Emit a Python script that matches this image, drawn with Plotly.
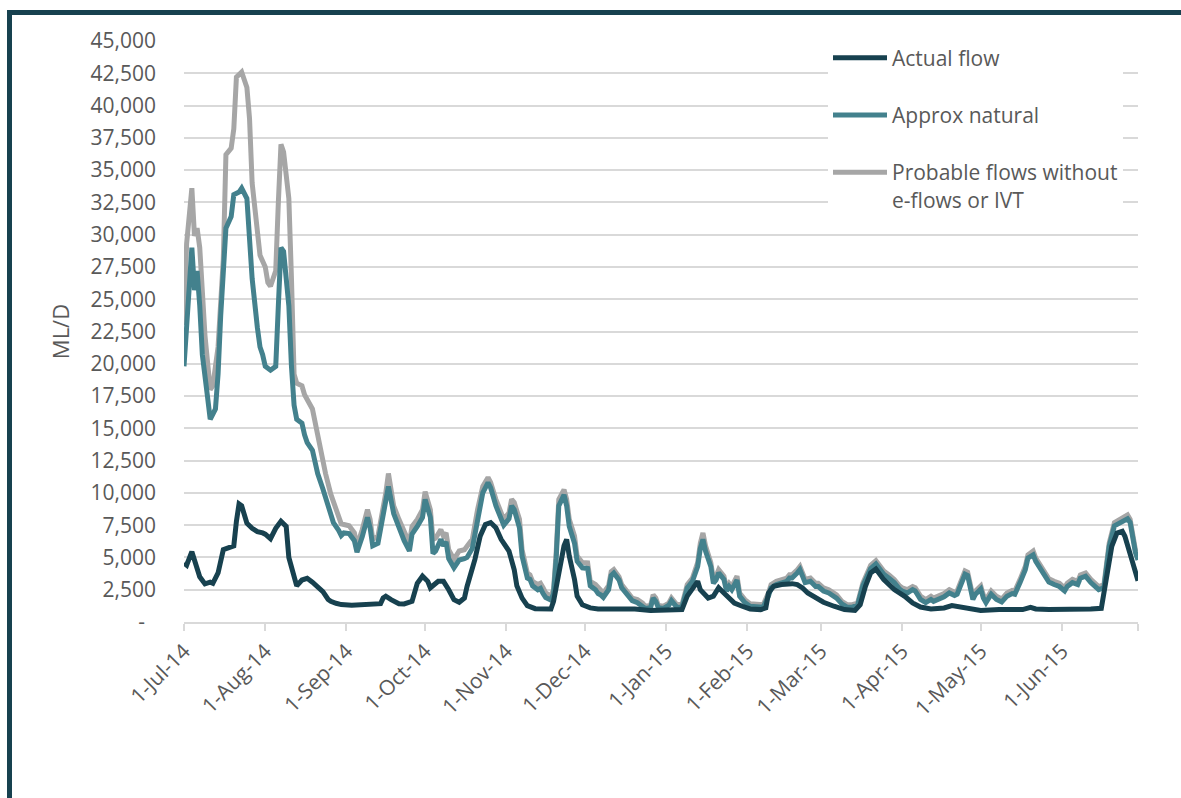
import pandas as pd
import plotly.graph_objects as go

START = "2014-07-01"

# ---- data (day offset from 1-Jul-14, value in ML/D) ----
actual_days = [0, 1, 3, 4, 6, 8, 10, 11, 13, 15, 17, 19, 20, 21, 22, 24, 26, 28, 30, 31, 33, 35, 37, 39, 40,
               42, 43, 45, 47, 49, 51, 53, 55, 56, 58, 60, 64, 69, 75, 76, 77, 79, 82, 84, 87, 89, 91, 93, 94,
               97, 99, 101, 103, 105, 107, 108, 111, 113, 115, 117, 119, 121, 124, 126, 127, 129, 131, 134,
               137, 140, 141, 143, 145, 146, 147, 149, 150, 152, 155, 158, 162, 165, 172, 178, 185, 190, 192,
               194, 196, 197, 200, 202, 204, 206, 208, 210, 213, 216, 220, 222, 223, 225, 228, 232, 234, 236,
               238, 241, 244, 248, 252, 256, 258, 260, 262, 264, 267, 271, 275, 278, 281, 285, 290, 293, 297,
               300, 304, 311, 317, 320, 323, 325, 330, 335, 341, 346, 350, 351, 353, 354, 356, 358, 359, 360,
               362, 364]
actual_vals = [4550, 4400, 5450, 4700, 3500, 2950, 3080, 3000, 3800, 5600, 5750, 5900, 7800, 9150, 9000, 7650,
               7250, 7000, 6900, 6800, 6450, 7250, 7800, 7400, 5000, 3250, 2800, 3250, 3380, 3080, 2650, 2350,
               1750, 1600, 1450, 1350, 1300, 1350, 1420, 1860, 2000, 1730, 1420, 1400, 1600, 3000, 3550, 3150,
               2650, 3150, 3150, 2500, 1730, 1530, 1860, 2750, 4850, 6650, 7550, 7700, 7300, 6400, 5500, 4050,
               2800, 1850, 1270, 1030, 1010, 1010, 1600, 3800, 5900, 6400, 5100, 3300, 2000, 1340, 1090, 1010,
               1010, 1090, 1010, 900, 900, 960, 2000, 2650, 3150, 2500, 1860, 2000, 2650, 2250, 1860, 1470,
               1220, 1010, 960, 1090, 2250, 2770, 2900, 2970, 2900, 2640, 2250, 1860, 1530, 1220, 960, 900,
               1340, 2770, 3800, 4100, 3280, 2510, 1990, 1470, 1160, 1010, 1090, 1270, 1160, 1010, 900, 960,
               1010, 960, 1140, 1010, 960, 960, 1010, 1010, 1060, 2250, 4320, 5870, 6900, 7030, 6640, 5870,
               4580, 3200]

natural_days = [0, 1, 2, 3, 4, 5, 6, 7, 9, 10, 12, 13, 14, 16, 18, 19, 21, 22, 24, 25, 26, 28, 29, 30, 31, 33,
                35, 36, 37, 38, 40, 41, 42, 43, 45, 46, 47, 49, 51, 53, 55, 56, 57, 59, 60, 61, 63, 65, 66, 68,
                70, 71, 72, 74, 75, 77, 78, 80, 82, 84, 86, 87, 89, 91, 92, 94, 95, 96, 98, 99, 100, 101, 103,
                105, 107, 108, 110, 112, 114, 116, 117, 119, 121, 122, 124, 125, 126, 128, 129, 131, 132, 133,
                135, 136, 137, 138, 140, 141, 142, 143, 145, 146, 147, 149, 150, 152, 154, 155, 157, 158, 159,
                160, 162, 163, 164, 166, 167, 169, 171, 173, 175, 176, 178, 179, 180, 181, 183, 185, 186, 188,
                190, 191, 192, 194, 196, 197, 198, 199, 201, 202, 203, 204, 206, 207, 208, 209, 211, 212, 214,
                216, 219, 221, 223, 224, 226, 228, 230, 231, 232, 234, 235, 236, 237, 239, 241, 242, 244, 246,
                248, 249, 251, 253, 255, 257, 259, 261, 262, 264, 265, 267, 269, 271, 273, 274, 276, 278, 279,
                281, 283, 285, 286, 288, 290, 292, 294, 295, 297, 298, 299, 300, 301, 302, 304, 305, 306, 308,
                310, 312, 314, 316, 317, 319, 321, 322, 324, 325, 327, 329, 330, 332, 334, 336, 337, 339, 341,
                342, 344, 346, 348, 349, 351, 352, 353, 355, 356, 358, 360, 361, 362, 363, 364]
natural_vals = [19800, 22500, 25700, 29000, 25700, 27200, 24500, 20700, 17400, 15700, 16500, 19200, 23700,
                30500, 31400, 33100, 33300, 33600, 32800, 30200, 26600, 22800, 21300, 20700, 19800, 19500,
                19800, 24500, 29000, 28700, 24500, 19800, 16800, 15700, 15400, 14500, 13900, 13300, 11500,
                10300, 9100, 8300, 7700, 7100, 6700, 6900, 6850, 6300, 5400, 6600, 8100, 7300, 5900, 6100,
                7100, 9300, 10500, 8400, 7300, 6300, 5500, 6800, 7400, 8100, 9500, 8100, 5300, 5500, 6400,
                5900, 6200, 4900, 4200, 4800, 4900, 5000, 5700, 8100, 10000, 10800, 10400, 9000, 7900, 7500,
                8000, 9000, 8700, 7300, 5100, 3400, 3300, 2800, 2500, 2600, 2200, 1900, 1700, 2200, 4900, 9000,
                9850, 9000, 7400, 6100, 4700, 4200, 4150, 2800, 2500, 2200, 2100, 1900, 2500, 3600, 3800, 3250,
                2650, 2150, 1650, 1500, 1250, 1050, 1100, 1850, 1600, 1100, 1050, 1300, 1650, 1150, 1150, 1850,
                2650, 3150, 4300, 5700, 6400, 5500, 4300, 3000, 3250, 3800, 3300, 2400, 2750, 2500, 3250, 2000,
                1500, 1220, 1150, 1150, 2000, 2650, 2900, 3050, 3150, 3400, 3400, 3800, 4050, 3550, 3050, 3150,
                2750, 2750, 2400, 2250, 2000, 1850, 1400, 1150, 1150, 1300, 2800, 3800, 4150, 4500, 4200, 3700,
                3400, 3050, 2550, 2400, 2250, 2500, 2400, 1750, 1500, 1750, 1600, 1750, 1950, 2250, 2050, 2150,
                3300, 3700, 3600, 2500, 1750, 2150, 2550, 1850, 1500, 2150, 1750, 1550, 2000, 2200, 2150, 3050,
                4050, 4950, 5200, 4700, 4050, 3400, 3100, 2900, 2750, 2400, 2750, 3050, 2900, 3400, 3550, 3050,
                2650, 2500, 2650, 4050, 5850, 7450, 7550, 7800, 8000, 7700, 6500, 5400, 4800]

probable_days = [0, 1, 3, 4, 5, 6, 8, 10, 11, 13, 15, 16, 18, 19, 20, 22, 24, 25, 26, 28, 29, 31, 32, 33, 35,
                 36, 37, 38, 40, 41, 42, 43, 45, 46, 48, 49, 51, 53, 54, 56, 58, 60, 61, 63, 65, 66, 68, 70, 71,
                 72, 74, 75, 77, 78, 80, 82, 84, 86, 87, 89, 91, 92, 94, 95, 96, 98, 99, 100, 101, 103, 105, 107,
                 108, 110, 112, 114, 116, 117, 119, 121, 122, 124, 125, 126, 128, 129, 131, 132, 133, 135, 136,
                 137, 138, 140, 141, 142, 143, 145, 146, 147, 149, 150, 152, 154, 155, 157, 158, 159, 160, 162,
                 163, 164, 166, 167, 169, 171, 173, 175, 176, 178, 179, 180, 181, 183, 185, 186, 188, 190, 191,
                 192, 194, 196, 197, 198, 199, 201, 202, 203, 204, 206, 207, 208, 209, 211, 212, 214, 216, 219,
                 221, 223, 224, 226, 228, 230, 231, 232, 234, 235, 236, 237, 239, 241, 242, 244, 246, 248, 249,
                 251, 253, 255, 257, 259, 261, 262, 264, 265, 267, 269, 271, 273, 274, 276, 278, 279, 281, 283,
                 285, 286, 288, 290, 292, 294, 295, 297, 298, 299, 300, 301, 302, 304, 305, 306, 308, 310, 312,
                 314, 316, 317, 319, 321, 322, 324, 325, 327, 329, 330, 332, 334, 336, 337, 339, 341, 342, 344,
                 346, 348, 349, 351, 352, 353, 355, 356, 358, 360, 361, 362, 363, 364]
probable_vals = [23000, 29300, 33600, 29900, 30500, 29000, 22200, 18000, 18300, 21300, 28100, 36200, 36700,
                 38200, 42200, 42600, 41400, 39000, 34000, 30200, 28400, 27500, 26300, 26000, 27200, 32500,
                 37000, 36400, 32800, 26600, 19200, 18500, 18300, 17600, 16800, 16500, 14500, 12400, 11500,
                 9900, 8600, 7600, 7550, 7450, 6900, 5900, 7150, 8700, 7950, 6400, 6650, 7700, 10000, 11500,
                 9000, 7950, 6900, 6100, 7400, 7950, 8700, 10100, 8700, 6400, 6500, 7150, 6650, 6900, 5600,
                 4850, 5500, 5600, 5870, 6400, 8700, 10500, 11200, 10800, 9500, 8450, 7950, 8450, 9500, 9250,
                 7950, 5600, 3800, 3650, 3150, 2900, 3000, 2650, 2250, 2000, 2500, 5350, 9500, 10250, 9500,
                 7950, 6650, 5100, 4600, 4580, 3150, 2900, 2650, 2500, 2250, 2800, 3900, 4060, 3500, 2900, 2400,
                 1850, 1730, 1470, 1220, 1270, 2100, 1850, 1270, 1220, 1470, 1850, 1350, 1350, 2100, 2900, 3400,
                 4600, 6100, 6900, 5900, 4600, 3300, 3550, 4050, 3550, 2650, 3000, 2750, 3550, 2250, 1730, 1420,
                 1340, 1340, 2250, 2900, 3150, 3300, 3400, 3650, 3650, 4050, 4300, 3800, 3300, 3400, 3000, 3000,
                 2650, 2500, 2250, 2100, 1600, 1340, 1340, 1470, 3000, 4050, 4400, 4750, 4450, 3950, 3650, 3300,
                 2800, 2650, 2500, 2750, 2650, 2000, 1730, 2000, 1850, 2000, 2200, 2500, 2300, 2400, 3550, 3950,
                 3850, 2750, 2000, 2400, 2800, 2100, 1730, 2400, 2000, 1780, 2250, 2450, 2400, 3300, 4300, 5200,
                 5500, 4950, 4300, 3650, 3350, 3150, 3000, 2650, 3000, 3300, 3150, 3650, 3800, 3300, 2900, 2750,
                 2900, 4300, 6100, 7700, 7800, 8050, 8300, 7950, 6750, 5600, 4950]

series_names = ["Actual flow", "Approx natural", "Probable flows without<br>e-flows or IVT"]
series_colors = ["#17414f", "#43818d", "#a6a6a6"]

month_ticks = ["2014-07-01", "2014-08-01", "2014-09-01", "2014-10-01", "2014-11-01", "2014-12-01",
               "2015-01-01", "2015-02-01", "2015-03-01", "2015-04-01", "2015-05-01", "2015-06-01", "2015-06-30"]
month_labels = ["1-Jul-14", "1-Aug-14", "1-Sep-14", "1-Oct-14", "1-Nov-14", "1-Dec-14",
                "1-Jan-15", "1-Feb-15", "1-Mar-15", "1-Apr-15", "1-May-15", "1-Jun-15", ""]

y_ticks = list(range(0, 45001, 2500))
y_labels = ["-\u00a0\u00a0"] + [f"{v:,}" for v in y_ticks[1:]]


def to_dates(days):
    return pd.Timestamp(START) + pd.to_timedelta(days, unit="D")


FONT = "Open Sans"
TXT = "#595959"

fig = go.Figure()
# drawn back to front: grey, teal, dark; legend order fixed by legendrank
for days, vals, name, color, rank in [
    (probable_days, probable_vals, series_names[2], series_colors[2], 3),
    (natural_days, natural_vals, series_names[1], series_colors[1], 2),
    (actual_days, actual_vals, series_names[0], series_colors[0], 1),
]:
    fig.add_trace(go.Scatter(x=to_dates(days), y=vals, mode="lines", name=name,
                             legendgroup=name, legendrank=rank,
                             line=dict(color=color, width=5)))

W, H = 1181, 798
ML, MR, MT, MB = 184, 43, 41, 176
pw, ph = W - ML - MR, H - MT - MB


def px_x(x):
    return (x - ML) / pw


def px_y(y):
    return (H - MB - y) / ph


fig.update_layout(
    width=W, height=H, autosize=False,
    margin=dict(l=ML, r=MR, t=MT, b=MB),
    paper_bgcolor="white", plot_bgcolor="white",
    font=dict(family=FONT, size=21, color=TXT),
    showlegend=True,
    legend=dict(x=px_x(828), y=px_y(37.5), xanchor="left", yanchor="top",
                bgcolor="rgba(255,255,255,1)", font=dict(size=21, color=TXT, family=FONT),
                traceorder="grouped", tracegroupgap=27, valign="top", itemwidth=54),
    xaxis=dict(type="date", range=[START, "2015-06-30"], tickvals=month_ticks, ticktext=month_labels,
               tickangle=-45, showgrid=False, zeroline=False, showline=True, linecolor="#d9d9d9",
               linewidth=1.5, ticks="outside", ticklen=7, tickwidth=1.5, tickcolor="#d9d9d9",
               tickfont=dict(size=21, color=TXT, family=FONT)),
    yaxis=dict(range=[0, 45000], tickvals=y_ticks, ticktext=y_labels, showgrid=True,
               gridcolor="#d9d9d9", gridwidth=1.5, zeroline=False, showline=False, ticks="",
               ticklabelstandoff=27, tickfont=dict(size=21, color=TXT, family=FONT),
               title=dict(text="ML/D", standoff=14, font=dict(size=22, color=TXT, family=FONT))),
    shapes=[dict(type="rect", xref="paper", yref="paper",
                 x0=px_x(9.5), x1=px_x(1195), y0=px_y(12.5), y1=px_y(815),
                 line=dict(color="#17414f", width=5), fillcolor="rgba(0,0,0,0)", layer="above")],
)

fig.write_html("out.html")
